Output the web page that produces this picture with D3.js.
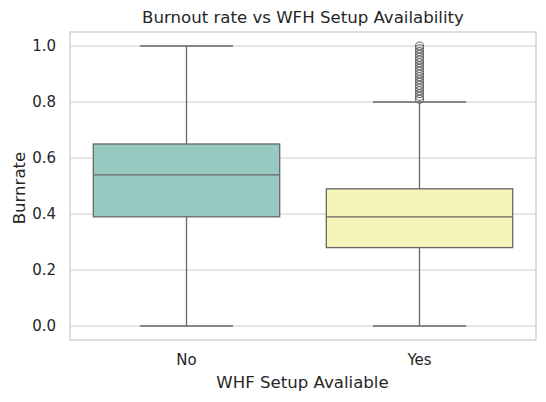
<!DOCTYPE html>
<html>
<head>
<meta charset="utf-8">
<script src="https://cdn.jsdelivr.net/npm/d3@7"></script>
<style>
  body { margin: 0; background: #fff; }
  text { font-family: "DejaVu Sans", sans-serif; fill: #262626; }
</style>
</head>
<body>
<div id="chart"></div>
<script>
const categories = ["No", "Yes"]
const q1 = [0.39, 0.28]
const medians = [0.54, 0.39]
const q3 = [0.65, 0.49]
const whiskLow = [0.0, 0.0]
const whiskHigh = [1.0, 0.80]
const fills = ["#97c9c0", "#f5f5b9"]
const yesOutliers = [0.81, 0.82, 0.83, 0.84, 0.85, 0.86, 0.87, 0.88, 0.89, 0.90,
    0.91, 0.92, 0.93, 0.94, 0.95, 0.96, 0.97, 0.98, 0.99, 1.00]
const yTicks = [0.0, 0.2, 0.4, 0.6, 0.8, 1.0]

const margin = { left: 70, right: 10, top: 32, bottom: 62 }
const width = 466, height = 308

const svg = d3.select("#chart").append("svg")
    .attr("width", 546)
    .attr("height", 402)

const g = svg.append("g")
    .attr("transform", "translate(" + margin.left + "," + margin.top + ")")

const x = d3.scaleBand().domain(categories).range([0, width])
const y = d3.scaleLinear().domain([-0.05, 1.05]).range([height, 0])

// grid
g.selectAll(".grid").data(yTicks).enter().append("line")
    .attr("x1", 0).attr("x2", width)
    .attr("y1", d => y(d)).attr("y2", d => y(d))
    .attr("stroke", "#cccccc").attr("stroke-width", 1)

// axes (labels only)
const yAxis = g.append("g").call(d3.axisLeft(y).tickValues(yTicks).tickFormat(d3.format(".1f")).tickSize(0).tickPadding(14))
const xAxis = g.append("g").attr("transform", "translate(0," + height + ")")
    .call(d3.axisBottom(x).tickSize(0).tickPadding(14))
g.selectAll(".domain").remove()
g.selectAll(".tick text").attr("font-size", "15px").attr("font-family", "DejaVu Sans").attr("fill", "#262626")

const boxes = categories.map((c, i) => ({
    c: c, q1: q1[i], med: medians[i], q3: q3[i], lo: whiskLow[i], hi: whiskHigh[i], fill: fills[i]
}))

const bw = x.bandwidth() * 0.8
const lineColor = "#676767"

boxes.forEach(b => {
    const cx = x(b.c) + x.bandwidth() / 2
    // whiskers
    g.append("line").attr("x1", cx).attr("x2", cx).attr("y1", y(b.q3)).attr("y2", y(b.hi))
        .attr("stroke", lineColor).attr("stroke-width", 1.3)
    g.append("line").attr("x1", cx).attr("x2", cx).attr("y1", y(b.q1)).attr("y2", y(b.lo))
        .attr("stroke", lineColor).attr("stroke-width", 1.3)
    // caps
    ;[b.lo, b.hi].forEach(v => {
        g.append("line").attr("x1", cx - bw / 4).attr("x2", cx + bw / 4).attr("y1", y(v)).attr("y2", y(v))
            .attr("stroke", lineColor).attr("stroke-width", 1.3)
    })
    // box
    g.append("rect").attr("x", cx - bw / 2).attr("width", bw)
        .attr("y", y(b.q3)).attr("height", y(b.q1) - y(b.q3))
        .attr("fill", b.fill).attr("stroke", lineColor).attr("stroke-width", 1.3)
    g.append("line").attr("x1", cx - bw / 2).attr("x2", cx + bw / 2).attr("y1", y(b.med)).attr("y2", y(b.med))
        .attr("stroke", lineColor).attr("stroke-width", 1.3)
})

// outliers
const cxYes = x("Yes") + x.bandwidth() / 2
g.selectAll(".flier").data(yesOutliers).enter().append("circle")
    .attr("cx", cxYes).attr("cy", d => y(d)).attr("r", 4)
    .attr("fill", "none").attr("stroke", lineColor).attr("stroke-width", 1.1)

// frame
g.append("rect").attr("x", 0).attr("y", 0).attr("width", width).attr("height", height)
    .attr("fill", "none").attr("stroke", "#cccccc").attr("stroke-width", 1.3)

// titles
svg.append("text").attr("x", margin.left + width / 2).attr("y", 23)
    .attr("text-anchor", "middle").attr("font-size", "16.6px").text("Burnout rate vs WFH Setup Availability")
svg.append("text").attr("x", margin.left + width / 2 - 0.5).attr("y", 388)
    .attr("text-anchor", "middle").attr("font-size", "16.6px").text("WHF Setup Avaliable")
svg.append("text").attr("transform", "translate(25," + (margin.top + height / 2 + 2) + ") rotate(-90)")
    .attr("text-anchor", "middle").attr("font-size", "16.6px").text("Burnrate")
</script>
</body>
</html>
